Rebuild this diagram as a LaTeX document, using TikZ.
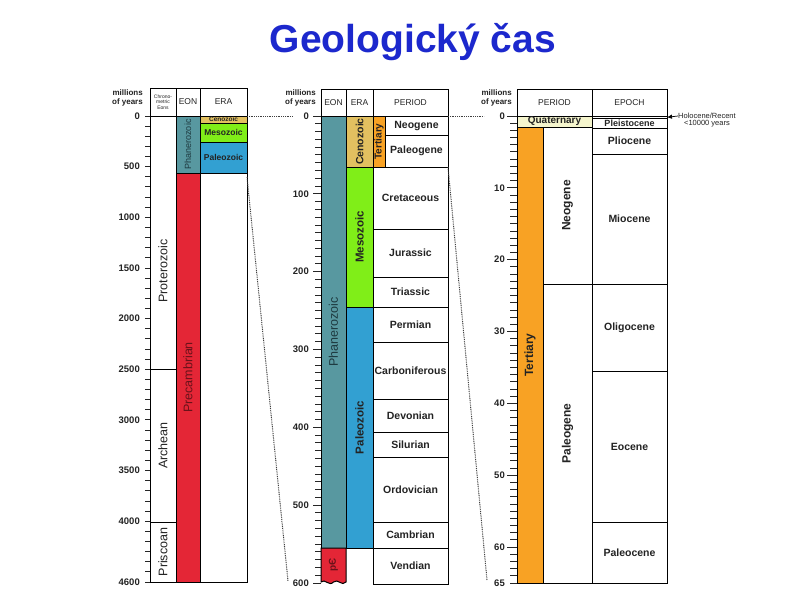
\documentclass[tikz,border=0pt]{standalone}
\usepackage{fontspec}
\setmainfont{Liberation Sans}
\usetikzlibrary{arrows.meta, positioning}

\definecolor{phancol}{RGB}{88,152,160}
\definecolor{phantxt}{RGB}{30,58,64}
\definecolor{precol}{RGB}{228,38,54}
\definecolor{pretxt}{RGB}{105,18,26}
\definecolor{mesocol}{RGB}{128,238,24}
\definecolor{paleocol}{RGB}{50,160,210}
\definecolor{cenocol}{RGB}{226,192,96}
\definecolor{tertcol}{RGB}{248,162,36}
\definecolor{quatcol}{RGB}{245,245,205}
\definecolor{titlecol}{RGB}{28,40,205}
\definecolor{inkcol}{RGB}{35,35,35}

\tikzstyle{frame} = [draw=black, line width=1pt]
\tikzstyle{unitlbl} = [inner sep=0pt, text=inkcol, font=\fontsize{10.5}{12}\selectfont\bfseries]
\tikzstyle{sidelbl} = [rotate=90, inner sep=0pt, text=inkcol, font=\fontsize{12.5}{14}\selectfont]
\tikzstyle{headlbl} = [inner sep=0pt, text=inkcol, font=\fontsize{8.5}{10}\selectfont]
\tikzstyle{milllbl} = [anchor=east, align=right, inner sep=0pt, text=inkcol, font=\fontsize{8}{8.8}\selectfont\bfseries]
\tikzstyle{yearlbl} = [anchor=east, inner sep=0pt, text=inkcol, font=\fontsize{9.5}{10}\selectfont\bfseries]
\tikzstyle{agetick} = [line width=0.9pt, black!85]
\tikzstyle{zoomline} = [line width=1pt, black!75, dash pattern=on 0.9pt off 0.9pt]
\tikzstyle{holarrow} = [line width=0.7pt, -{Latex[length=5pt,width=4.5pt]}]

% box from (x1,y1) to (x2,y2), label put in its middle
\newcommand{\unitbox}[8]{%
  \node[frame, fill=#6, anchor=north west, inner sep=0pt, outer sep=0pt,
        minimum width={(#4-#2)*1pt}, minimum height={(#5-#3)*1pt}] (#1) at (#2,#3) {};
  \node[#7] (#1-t) at (#1.center) {#8};}

\begin{document}
\begin{tikzpicture}[x=1pt, y=-1pt]
    \fill[white] (0,0) rectangle (800,600);
    \useasboundingbox (0,0) rectangle (800,600);

    \node[text=titlecol, font=\fontsize{39}{44}\selectfont\bfseries] (title) at (413,42) {Geologický čas};

    % ---- whole earth history
    \node[milllbl] (lmill) at (143,98) {millions\\of years};
    \unitbox{lhchron}{150}{88}{176}{116}{white}{headlbl, align=center, font=\fontsize{5}{5.5}\selectfont}{Chrono-\\metric\\Eons}
    \unitbox{lheon}{176}{88}{200}{116}{white}{headlbl}{EON}
    \unitbox{lhera}{200}{88}{247}{116}{white}{headlbl}{ERA}

    \foreach \t in {0,100,...,4600} \draw[agetick] (150,{116+0.1013*\t}) -- ++(-5,0);
    \foreach \t in {0,500,...,4000,4600} \node[yearlbl] (ly\t) at (140,{116+0.1013*\t}) {\t};

    \draw[frame] (150,116) rectangle (176,369);
    \node[sidelbl] (lprot) at (163,271) {Proterozoic};
    \unitbox{larch}{150}{369}{176}{522}{white}{sidelbl}{Archean}
    \unitbox{lpris}{150}{522}{176}{582}{white}{sidelbl}{Priscoan}

    \unitbox{lphan}{176}{116}{200}{173}{phancol}{sidelbl, text=phantxt, font=\fontsize{9}{10}\selectfont}{Phanerozoic}
    \unitbox{lprec}{176}{173}{200}{582}{precol}{sidelbl, text=pretxt}{Precambrian}

    \unitbox{lceno}{200}{116}{247}{123}{cenocol}{unitlbl, font=\fontsize{6.5}{7}\selectfont\bfseries}{Cenozoic}
    \unitbox{lmeso}{200}{123}{247}{142}{mesocol}{unitlbl, font=\fontsize{8.5}{9}\selectfont\bfseries}{Mesozoic}
    \unitbox{lpaleo}{200}{142}{247}{173}{paleocol}{unitlbl, font=\fontsize{8.5}{9}\selectfont\bfseries}{Paleozoic}
    \unitbox{lrest}{200}{173}{247}{582}{white}{unitlbl}{}

    % ---- Phanerozoic
    \node[milllbl] (mmill) at (316,98) {millions\\of years};
    \unitbox{mheon}{321}{89}{346}{116}{white}{headlbl}{EON}
    \unitbox{mhera}{346}{89}{373}{116}{white}{headlbl}{ERA}
    \unitbox{mhper}{373}{89}{448}{116}{white}{headlbl}{PERIOD}

    \foreach \t in {0,10,...,600} \draw[agetick] (321,{116+0.7783*\t}) -- ++(-6,0);
    \foreach \t in {0,100,...,600} \draw[agetick] (321,{116+0.7783*\t}) -- ++(-8,0);
    \foreach \t in {0,100,...,600} \node[yearlbl] (my\t) at (309,{116+0.7783*\t}) {\t};

    \unitbox{mphan}{321}{116}{346}{548}{phancol}{sidelbl, text=phantxt}{Phanerozoic}
    \draw[frame, fill=precol] (321,548) -- (346,548) -- (346,582)
        .. controls (342,587) and (338,578) .. (333.5,582)
        .. controls (329,587) and (325,578) .. (321,582) -- cycle;
    \node[unitlbl, rotate=90, text=pretxt, font=\fontsize{10}{10}\selectfont\bfseries] (mpc) at (333.5,565) {pЄ};

    \unitbox{mceno}{346}{116}{373}{167}{cenocol}{unitlbl, rotate=90}{Cenozoic}
    \unitbox{mmeso}{346}{167}{373}{307}{mesocol}{unitlbl, rotate=90, font=\fontsize{11.5}{12}\selectfont\bfseries}{Mesozoic}
    \unitbox{mpaleo}{346}{307}{373}{548}{paleocol}{unitlbl, rotate=90, font=\fontsize{11.5}{12}\selectfont\bfseries}{Paleozoic}

    \unitbox{mtert}{373}{116}{385}{167}{tertcol}{unitlbl, rotate=90, font=\fontsize{10}{10}\selectfont\bfseries}{Tertiary}
    \unitbox{mneog}{385}{116}{448}{135}{white}{unitlbl}{Neogene}
    \unitbox{mpaleog}{385}{135}{448}{167}{white}{unitlbl}{Paleogene}
    \unitbox{mcret}{373}{167}{448}{229}{white}{unitlbl}{Cretaceous}
    \unitbox{mjur}{373}{229}{448}{277}{white}{unitlbl}{Jurassic}
    \unitbox{mtri}{373}{277}{448}{307}{white}{unitlbl}{Triassic}
    \unitbox{mperm}{373}{307}{448}{342}{white}{unitlbl}{Permian}
    \unitbox{mcarb}{373}{342}{448}{399}{white}{unitlbl}{Carboniferous}
    \unitbox{mdev}{373}{399}{448}{432}{white}{unitlbl}{Devonian}
    \unitbox{msil}{373}{432}{448}{457}{white}{unitlbl}{Silurian}
    \unitbox{mord}{373}{457}{448}{522}{white}{unitlbl}{Ordovician}
    \unitbox{mcamb}{373}{522}{448}{548}{white}{unitlbl}{Cambrian}
    \unitbox{mvend}{373}{548}{448}{584}{white}{unitlbl}{Vendian}

    % ---- Tertiary and Quaternary
    \node[milllbl] (rmill) at (512,98) {millions\\of years};
    \unitbox{rhper}{517}{89}{592}{116}{white}{headlbl}{PERIOD}
    \unitbox{rhepo}{592}{89}{667}{116}{white}{headlbl}{EPOCH}

    \foreach \t in {0,...,65} \draw[agetick] (517,{116+7.185*\t}) -- ++(-7,0);
    \foreach \t in {0,10,...,60} \draw[agetick] (517,{116+7.185*\t}) -- ++(-10,0);
    \foreach \t in {0,10,...,60,65} \node[yearlbl] (ry\t) at (505,{116+7.185*\t}) {\t};

    \unitbox{rquat}{517}{116}{592}{127}{quatcol}{unitlbl, font=\fontsize{10}{10}\selectfont\bfseries}{Quaternary}
    \unitbox{rtert}{517}{127}{543}{583}{tertcol}{unitlbl, rotate=90, font=\fontsize{12}{12}\selectfont\bfseries}{Tertiary}
    \unitbox{rneog}{543}{127}{592}{284}{white}{unitlbl, rotate=90, font=\fontsize{12}{12}\selectfont\bfseries}{Neogene}
    \unitbox{rpaleog}{543}{284}{592}{583}{white}{unitlbl, rotate=90, font=\fontsize{12}{12}\selectfont\bfseries}{Paleogene}

    \unitbox{rholo}{592}{116}{667}{118.5}{white}{unitlbl}{}
    \unitbox{rpleist}{592}{118.5}{667}{128}{white}{unitlbl, font=\fontsize{9}{9}\selectfont\bfseries}{Pleistocene}
    \unitbox{rplio}{592}{128}{667}{154}{white}{unitlbl}{Pliocene}
    \unitbox{rmio}{592}{154}{667}{284}{white}{unitlbl}{Miocene}
    \unitbox{roligo}{592}{284}{667}{371}{white}{unitlbl}{Oligocene}
    \unitbox{reo}{592}{371}{667}{522}{white}{unitlbl}{Eocene}
    \unitbox{rpaleo}{592}{522}{667}{583}{white}{unitlbl}{Paleocene}

    \node[anchor=west, inner sep=0pt, text=inkcol, font=\fontsize{7.5}{8}\selectfont] (holtxt) at (678,116) {Holocene/Recent};
    \node[below=1.5pt of holtxt, inner sep=0pt, text=inkcol, font=\fontsize{7.5}{8}\selectfont] (holyrs) {<10000 years};
    \draw[holarrow] (holtxt.west) -- (rholo.east);

    % ---- zoom lines between the columns
    \coordinate (mzero) at (293,116);
    \coordinate (l600) at (247,177);
    \coordinate (m600) at (288,581);
    \coordinate (rzero) at (484,116);
    \coordinate (r65) at (487,580);
    \draw[zoomline] (lceno.north east) -- (mzero);
    \draw[zoomline] (l600) -- (m600);
    \draw[zoomline] (mneog.north east) -- (rzero);
    \draw[zoomline] (mpaleog.south east) -- (r65);
\end{tikzpicture}
\end{document}
